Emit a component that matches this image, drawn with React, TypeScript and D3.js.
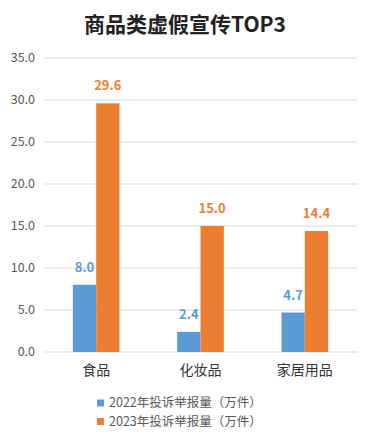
import React from "react";
import * as d3 from "d3";

const categories = ["食品", "化妆品", "家居用品"];
const series = ["2022年投诉举报量（万件）", "2023年投诉举报量（万件）"];
const values2022 = [8.0, 2.4, 4.7];
const values2023 = [29.6, 15.0, 14.4];
const yTicks = [0, 5, 10, 15, 20, 25, 30, 35];

const colors = ["#5B9BD5", "#ED7D31"];

const sizes = { width: 371, height: 447 };
const margin = { top: 58, bottom: 95, left: 44, right: 14 };

const font = "'Noto Sans CJK SC', 'Noto Sans', sans-serif";

const x = d3.scaleBand<string>()
  .domain(categories)
  .range([margin.left, sizes.width - margin.right])
  .paddingInner(0.553)
  .paddingOuter(0.2765);

const x1 = d3.scaleBand<number>()
  .domain([0, 1])
  .range([0, x.bandwidth()]);

const y = d3.scaleLinear()
  .domain([0, 35])
  .range([sizes.height - margin.bottom, margin.top]);

export default function App() {
  const rows = categories.map((c, i) => ({ c, vals: [values2022[i], values2023[i]] }));

  return (
    <svg
      width={sizes.width}
      height={sizes.height}
      style={{ position: "absolute", left: 0, top: 0, background: "#fff" }}
      fontFamily={font}
    >
      <text x={185} y={32} textAnchor="middle" fontSize={21} fontWeight="bold" fill="#222">
        商品类虚假宣传TOP3
      </text>

      {/* grid + y labels */}
      {yTicks.map((t) => (
        <g key={t}>
          <line
            x1={margin.left}
            x2={sizes.width - margin.right}
            y1={y(t)}
            y2={y(t)}
            stroke="#d9d9d9"
            strokeWidth={1}
          />
          <text x={35} y={y(t)} dy="0.35em" textAnchor="end" fontSize={12.5} fill="#595959">
            {t.toFixed(1)}
          </text>
        </g>
      ))}

      {rows.map((r) => (
        <g key={r.c} transform={`translate(${x(r.c)},0)`}>
          {r.vals.map((v, j) => (
            <g key={j}>
              <rect
                x={x1(j)}
                y={y(v)}
                width={x1.bandwidth()}
                height={y(0) - y(v)}
                fill={colors[j]}
              />
              <text
                x={(x1(j) as number) + x1.bandwidth() / 2}
                y={y(v) - 13}
                textAnchor="middle"
                fontSize={13}
                fontWeight="bold"
                fill={colors[j]}
              >
                {v.toFixed(1)}
              </text>
            </g>
          ))}
          <text
            x={x.bandwidth() / 2}
            y={y(0) + 18}
            dy="0.35em"
            textAnchor="middle"
            fontSize={14}
            fill="#333"
          >
            {r.c}
          </text>
        </g>
      ))}

      {/* legend */}
      {series.map((s, i) => (
        <g key={s} transform={`translate(97,${403 + i * 18.5})`}>
          <rect x={0} y={-3.5} width={7} height={7} fill={colors[i]} />
          <text x={12} y={0} dy="0.35em" fontSize={12.5} fill="#595959">
            {s}
          </text>
        </g>
      ))}
    </svg>
  );
}
